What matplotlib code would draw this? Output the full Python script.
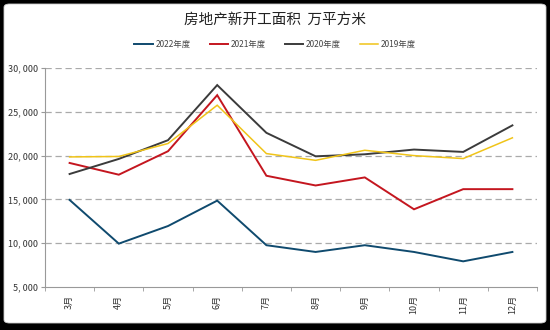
import matplotlib
matplotlib.use("Agg")
import matplotlib.pyplot as plt
from matplotlib.patches import FancyBboxPatch
from matplotlib.ticker import FixedLocator, FuncFormatter

plt.rcParams['font.family'] = ['Noto Sans CJK SC', 'DejaVu Sans']

months = ["3月", "4月", "5月", "6月", "7月", "8月", "9月", "10月", "11月", "12月"]
s2022 = [14940, 9950, 11960, 14860, 9770, 9000, 9770, 9000, 7930, 9000]
s2021 = [19160, 17820, 20500, 26900, 17700, 16590, 17510, 13870, 16170, 16170]
s2020 = [17900, 19620, 21760, 28050, 22600, 19920, 20150, 20690, 20420, 23450]
s2019 = [19850, 19900, 21380, 25750, 20230, 19460, 20610, 20000, 19660, 22030]
series_names = ["2022年度", "2021年度", "2020年度", "2019年度"]
colors = ["#0f4a6e", "#c4161f", "#3b3b3b", "#f0c419"]
yticks = [5000, 10000, 15000, 20000, 25000, 30000]

fig = plt.figure(figsize=(5.5, 3.3), dpi=100)
fig.patch.set_facecolor("black")
bg = FancyBboxPatch((4/550, 7/330), 542/550, 319/330,
                    boxstyle="round,pad=0,rounding_size=0.01",
                    transform=fig.transFigure, facecolor="white",
                    edgecolor="#cccccc", linewidth=0.6, zorder=-10)
fig.add_artist(bg)

ax = fig.add_axes([45/550, 1-287/330, 492/550, 219/330])
ax.set_zorder(1)
ax.set_facecolor("white")
x = list(range(len(months)))
for vals, name, c in zip([s2022, s2021, s2020, s2019], series_names, colors):
    lw = 1.4 if name != "2019年度" else 1.1
    ax.plot(x, vals, color=c, lw=lw, label=name, solid_joinstyle="miter")

ax.set_xlim(-0.5, len(months)-0.5)
ax.set_ylim(5000, 30000)
ax.yaxis.set_major_locator(FixedLocator(yticks))
ax.yaxis.set_major_formatter(FuncFormatter(lambda v, p: f"{int(v):,}".replace(",", ", ")))
ax.set_xticks(x)
ax.set_xticklabels(months, rotation=90, fontsize=6.5, color="#333333")
ax.xaxis.set_minor_locator(FixedLocator([i - 0.5 for i in range(len(months)+1)]))
ax.tick_params(axis="x", which="major", length=0, pad=6)
ax.tick_params(axis="x", which="minor", length=3, color="#999999", direction="out")
ax.tick_params(axis="y", length=3, color="#999999", labelsize=6.5, labelcolor="#333333", pad=2)
for v in yticks[1:]:
    ax.axhline(v, color="#aaaaaa", lw=0.9, ls=(0, (5, 3)), zorder=0)
for s in ["top", "right"]:
    ax.spines[s].set_visible(False)
for s in ["left", "bottom"]:
    ax.spines[s].set_color("#999999")
    ax.spines[s].set_linewidth(0.8)

fig.text(0.5, 1-20/330, "房地产新开工面积  万平方米", ha="center", va="center",
         fontsize=10.5, color="#222222")
leg = fig.legend(loc="center", bbox_to_anchor=(0.5, 1-44/330), ncol=4, frameon=False,
                 fontsize=6, handlelength=2.2, columnspacing=2.3, handletextpad=0.3,
                 labelcolor="#444444")
fig.savefig("out.png", dpi=100, facecolor=fig.get_facecolor())
